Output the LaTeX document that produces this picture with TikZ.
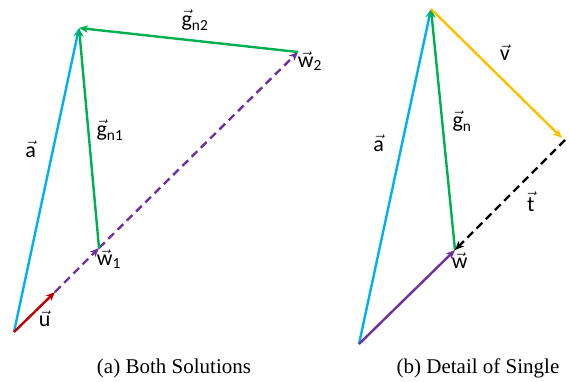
\documentclass[tikz,border=0pt]{standalone}
\usepackage{amsmath}
\usepackage{fontspec}
\setmainfont{Carlito}
\newfontfamily\capfont{Liberation Serif}
\usetikzlibrary{arrows.meta,positioning}
\definecolor{vblue}{HTML}{00B0F0}
\definecolor{vgreen}{HTML}{00B050}
\definecolor{vpurple}{HTML}{7030A0}
\definecolor{vred}{HTML}{C00000}
\definecolor{vyellow}{HTML}{FFC000}
\newcommand{\vlab}[2]{$\vec{\text{#1}}_{\text{#2}}$}
\tikzset{>={Stealth[length=9pt,width=7.5pt,inset=2.5pt]}}
\tikzset{vecline/.style={line width=2.4pt,->},
  dashvec/.style={vecline,dash pattern=on 8pt off 5pt},
  lbl/.style={font=\fontsize{22}{26}\selectfont,inner sep=0pt},
  capt/.style={font=\capfont\fontsize{21}{24}\selectfont,inner sep=0pt}}

\begin{document}
\begin{tikzpicture}[x=1pt,y=-1pt]
  \useasboundingbox (0,0) rectangle (570,381);
  % (a) both solutions
  \coordinate (o1) at (14,332);
  \coordinate (a1) at (79,28);
  \coordinate (ut) at (55,292);
  \coordinate (w1) at (99,248);
  \coordinate (w2) at (298,52);
  \draw[vecline,vblue] (o1) -- (a1);
  \draw[vecline,vred] (o1) -- (ut);
  \draw[dashvec,vpurple] (ut) -- (w1);
  \draw[dashvec,vpurple] (w1) -- (w2);
  \draw[vecline,vgreen] (w1) -- (a1);
  \draw[vecline,vgreen] (w2) -- (a1);
  \node[lbl] (la1) at (31,151) {\vlab{a}{}};
  \node[lbl] (lg1) at (110,130) {\vlab{g}{n1}};
  \node[lbl] (lg2) at (195,20) {\vlab{g}{n2}};
  \node[lbl] (lw2) at (310,61) {\vlab{w}{2}};
  \node[lbl] (lw1) at (109,259) {\vlab{w}{1}};
  \node[lbl] (lu) at (45,320) {\vlab{u}{}};
  \node[capt] (capa) at (174,368) {(a) Both Solutions};
  % (b) detail of single
  \coordinate (o2) at (359,344);
  \coordinate (a2) at (431,9);
  \coordinate (vt) at (562,138);
  \coordinate (ts) at (565,140);
  \coordinate (w) at (455,250);
  \draw[vecline,vblue] (o2) -- (a2);
  \draw[vecline,vpurple] (o2) -- (w);
  \draw[vecline,vgreen] (w) -- (a2);
  \draw[vecline,vyellow] (a2) -- (vt);
  \draw[dashvec,black] (ts) -- (w);
  \node[lbl] (la2) at (379,145) {\vlab{a}{}};
  \node[lbl] (lgn) at (462,121) {\vlab{g}{n}};
  \node[lbl] (lv) at (505,54) {\vlab{v}{}};
  \node[lbl] (lt) at (531,203) {\vlab{t}{}};
  \node[lbl] (lw) at (460,262) {\vlab{w}{}};
  \node[capt] (capb) at (478,368) {(b) Detail of Single};
\end{tikzpicture}
\end{document}
